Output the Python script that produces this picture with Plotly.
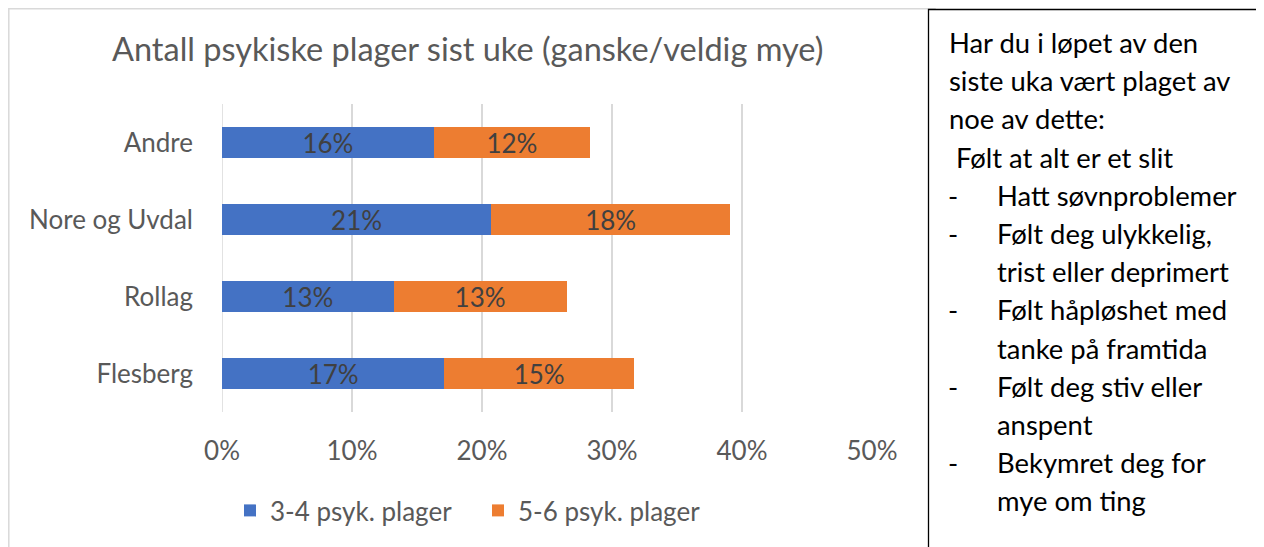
import plotly.graph_objects as go

categories = ["Andre", "Nore og Uvdal", "Rollag", "Flesberg"]
series_names = ["3-4 psyk. plager", "5-6 psyk. plager"]
val_34 = [0.163, 0.207, 0.132, 0.171]
val_56 = [0.120, 0.184, 0.133, 0.146]
x_ticks = [0, 0.1, 0.2, 0.3, 0.4, 0.5]
x_tick_labels = ["0%", "10%", "20%", "30%", "40%", "50%"]
title_text = "Antall psykiske plager sist uke (ganske/veldig mye)"
box_lines = [
    ("Har du i løpet av den", 0),
    ("siste uka vært plaget av", 0),
    ("noe av dette:", 0),
    (" Følt at alt er et slit", 0),
    ("Hatt søvnproblemer", 1),
    ("Følt deg ulykkelig,", 1),
    ("trist eller deprimert", 2),
    ("Følt håpløshet med", 1),
    ("tanke på framtida", 2),
    ("Følt deg stiv eller", 1),
    ("anspent", 2),
    ("Bekymret deg for", 1),
    ("mye om ting", 2),
]

# page body has an 8px margin; size the figure so the page is exactly 1264x547
OFF = 8
W, H = 1264 - OFF, 547 - OFF
FONT = "Lato"
colors = ["#4472C4", "#ED7D31"]

fig = go.Figure()
for name, vals, col in zip(series_names, [val_34, val_56], colors):
    fig.add_trace(go.Bar(
        y=categories, x=vals, name=name, orientation="h",
        marker=dict(color=col, line=dict(width=0)),
        texttemplate="%{x:.0%}", textposition="inside",
        insidetextanchor="middle",
        textfont=dict(family=FONT, size=26, color="#404040"),
        constraintext="none",
    ))

def px_x(p):
    return (p - OFF) / W

def px_y(p):
    return 1 - (p - OFF) / H

fig.update_layout(
    width=W, height=H,
    margin=dict(l=0, r=0, t=0, b=0, autoexpand=False),
    paper_bgcolor="white", plot_bgcolor="white",
    barmode="stack", bargap=0.6,
    font=dict(family=FONT, color="#595959"),
    showlegend=True,
    legend=dict(orientation="h", x=px_x(230), y=px_y(487), xanchor="left", yanchor="top",
                font=dict(family=FONT, size=26, color="#595959"), traceorder="normal",
                itemwidth=30, entrywidth=203),
    xaxis=dict(domain=[px_x(222), px_x(872)], range=[0, 0.5], tickvals=x_ticks,
               ticktext=x_tick_labels, showgrid=True, gridcolor="#d9d9d9", gridwidth=1.5,
               zeroline=False, showline=False, ticks="", ticklabelstandoff=21,
               automargin=False,
               tickfont=dict(family=FONT, size=26, color="#595959")),
    yaxis=dict(domain=[px_y(412), px_y(104)], autorange="reversed", showgrid=False,
               ticks="", ticklabelstandoff=28, showline=False, automargin=False,
               tickfont=dict(family=FONT, size=26, color="#595959")),
)

# zero gridline
fig.add_shape(type="line", xref="x", yref="paper", x0=0, x1=0, y0=px_y(412), y1=px_y(104),
              line=dict(color="#d9d9d9", width=1.5), layer="below")

# title
fig.add_annotation(text=title_text, xref="paper", yref="paper", x=px_x(467), y=px_y(48.5),
                   xanchor="center", yanchor="middle", showarrow=False,
                   font=dict(family=FONT, size=32.5, color="#595959"))

# chart border
fig.add_shape(type="rect", xref="paper", yref="paper", x0=px_x(8.8), x1=px_x(935), y0=px_y(560), y1=px_y(8.8),
              line=dict(color="#d9d9d9", width=1.5), layer="below")

# text box
fig.add_shape(type="rect", xref="paper", yref="paper", x0=px_x(928.5), x1=px_x(1258), y0=px_y(560), y1=px_y(9.5),
              line=dict(color="black", width=1.3), fillcolor="white")

y0 = 42.5
step = 38.2
for i, (line, kind) in enumerate(box_lines):
    yy = y0 + i * step
    if kind == 1:
        fig.add_annotation(text="-", xref="paper", yref="paper", x=px_x(946), y=px_y(yy),
                           xanchor="left", yanchor="middle", showarrow=False,
                           font=dict(family=FONT, size=27.4, color="black"))
    xx = 947 if kind == 0 else 995
    fig.add_annotation(text=line.replace(" ", "&nbsp;", 1) if line.startswith(" ") else line,
                       xref="paper", yref="paper", x=px_x(xx), y=px_y(yy),
                       xanchor="left", yanchor="middle", showarrow=False,
                       font=dict(family=FONT, size=27.4, color="black"))

fig.write_html("out.html")
